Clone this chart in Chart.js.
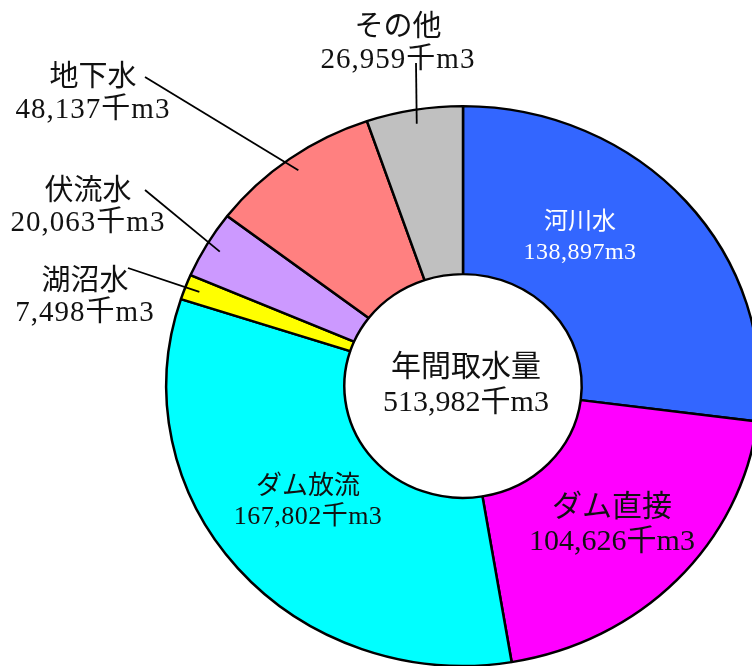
<!DOCTYPE html>
<html lang="ja">
<head>
<meta charset="UTF-8" />
<title>年間取水量</title>
<script src="https://cdn.jsdelivr.net/npm/chart.js"></script>
<style>
  html, body { margin: 0; padding: 0; background: #fff; overflow: hidden; }
  #wrap { position: relative; width: 800px; height: 800px; }
</style>
</head>
<body>
<div id="wrap"><canvas id="intakeChart" width="800" height="800"></canvas></div>
<script>
// 取水量の内訳（千m3）
const sources = ["河川水", "ダム直接", "ダム放流", "湖沼水", "伏流水", "地下水", "その他"];
const volumes = [138897, 104626, 167802, 7498, 20063, 48137, 26959];
const units = ["m3", "千m3", "千m3", "千m3", "千m3", "千m3", "千m3"];
const centerTitle = "年間取水量";

const colors = ["#3366ff", "#ff00ff", "#00ffff", "#ffff00", "#cc99ff", "#ff8080", "#c0c0c0"];

// --- mise en page ---
const squash = 0.943; // the ring is a bit flatter than a circle
const fontStack = '"Liberation Serif", "Noto Sans CJK JP", serif';
const labelLayout = [
  { x: 580, y: 223, gap: 30, size: 24, color: "#ffffff", spacing: 0.5 },
  { x: 612, y: 508, gap: 34, size: 30, color: "#111111", spacing: 0 },
  { x: 308, y: 487, gap: 30, size: 26, color: "#111111", spacing: 0.5 },
  { x: 85, y: 282, gap: 31, size: 29, color: "#111111", spacing: 1, from: [128, 268] },
  { x: 88, y: 192, gap: 31, size: 29, color: "#111111", spacing: 1, from: [145, 190] },
  { x: 93, y: 78, gap: 32, size: 29, color: "#111111", spacing: 1, from: [145, 77] },
  { x: 398, y: 28, gap: 32, size: 29, color: "#111111", spacing: 1, from: [416, 63] },
];
const centerLayout = { x: 466, y: 368, gap: 35, size: 30 };

const total = volumes.reduce((a, b) => a + b, 0);
const fmt = (v) => v.toLocaleString("en-US");

// flatten the doughnut vertically around its centre
const flatten = {
  id: "flatten",
  beforeDatasetsDraw(chart) {
    const arc = chart.getDatasetMeta(0).data[0];
    const ctx = chart.ctx;
    ctx.save();
    ctx.translate(0, arc.y);
    ctx.scale(1, squash);
    ctx.translate(0, -arc.y);
  },
  afterDatasetsDraw(chart) {
    chart.ctx.restore();
  },
};

// labels, leader lines and the total in the hole
const sliceLabels = {
  id: "sliceLabels",
  afterDraw(chart) {
    const ctx = chart.ctx;
    const arcs = chart.getDatasetMeta(0).data;
    ctx.save();
    ctx.textAlign = "center";
    ctx.textBaseline = "middle";
    arcs.forEach((arc, i) => {
      const L = labelLayout[i];
      if (L.from) {
        const mid = (arc.startAngle + arc.endAngle) / 2;
        const r = arc.outerRadius * 0.95;
        ctx.beginPath();
        ctx.moveTo(L.from[0], L.from[1]);
        ctx.lineTo(arc.x + Math.cos(mid) * r, arc.y + Math.sin(mid) * r * squash);
        ctx.lineWidth = 1.8;
        ctx.strokeStyle = "#000";
        ctx.stroke();
      }
      ctx.font = L.size + "px " + fontStack;
      ctx.fillStyle = L.color;
      ctx.letterSpacing = "0px";
      ctx.fillText(sources[i], L.x, L.y);
      ctx.letterSpacing = L.spacing + "px";
      ctx.fillText(fmt(volumes[i]) + units[i], L.x, L.y + L.gap);
    });
    ctx.letterSpacing = "0px";
    ctx.font = centerLayout.size + "px " + fontStack;
    ctx.fillStyle = "#111111";
    ctx.fillText(centerTitle, centerLayout.x, centerLayout.y);
    ctx.fillText(fmt(total) + "千m3", centerLayout.x, centerLayout.y + centerLayout.gap);
    ctx.restore();
  },
};

new Chart(document.getElementById("intakeChart"), {
  type: "doughnut",
  data: {
    labels: sources,
    datasets: [
      {
        data: volumes,
        backgroundColor: colors,
        borderColor: "#000",
        borderWidth: 2.5,
        hoverOffset: 0,
      },
    ],
  },
  options: {
    responsive: false,
    devicePixelRatio: 1,
    animation: false,
    events: [],
    cutout: "40%",
    layout: { padding: { left: 165, top: 88, right: 39, bottom: 116 } },
    plugins: { legend: { display: false }, tooltip: { enabled: false } },
  },
  plugins: [flatten, sliceLabels],
});
</script>
</body>
</html>
